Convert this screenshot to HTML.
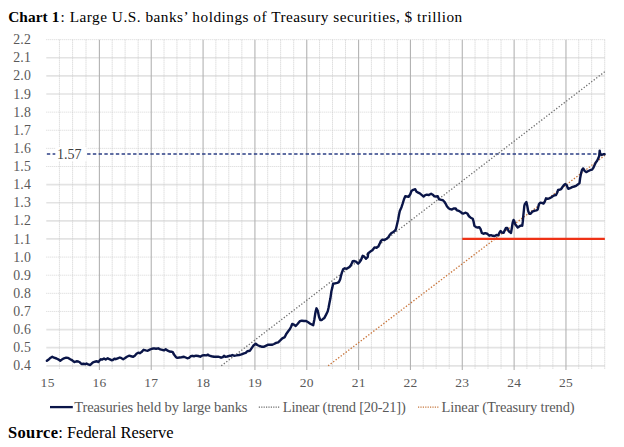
<!DOCTYPE html>
<html><head><meta charset="utf-8"><style>
html,body{margin:0;padding:0;background:#fff;}
body{width:624px;height:447px;overflow:hidden;}
svg{display:block;font-family:"Liberation Serif",serif;}
</style></head><body>
<svg width="624" height="447" viewBox="0 0 624 447">
<line x1="46.30" y1="365.81" x2="604.84" y2="365.81" stroke="#e3e3e3" stroke-width="1.7"/>
<line x1="46.30" y1="347.69" x2="604.84" y2="347.69" stroke="#e3e3e3" stroke-width="1.7"/>
<line x1="46.30" y1="329.57" x2="604.84" y2="329.57" stroke="#e3e3e3" stroke-width="1.7"/>
<line x1="46.30" y1="311.45" x2="604.84" y2="311.45" stroke="#d6d6d6" stroke-width="1" stroke-dasharray="1 1"/>
<line x1="46.30" y1="293.33" x2="604.84" y2="293.33" stroke="#d6d6d6" stroke-width="1" stroke-dasharray="1 1"/>
<line x1="46.30" y1="275.21" x2="604.84" y2="275.21" stroke="#d6d6d6" stroke-width="1" stroke-dasharray="1 1"/>
<line x1="46.30" y1="257.09" x2="604.84" y2="257.09" stroke="#d6d6d6" stroke-width="1" stroke-dasharray="1 1"/>
<line x1="46.30" y1="238.97" x2="604.84" y2="238.97" stroke="#e3e3e3" stroke-width="1.7"/>
<line x1="46.30" y1="220.85" x2="604.84" y2="220.85" stroke="#e3e3e3" stroke-width="1.7"/>
<line x1="46.30" y1="202.73" x2="604.84" y2="202.73" stroke="#e3e3e3" stroke-width="1.7"/>
<line x1="46.30" y1="184.61" x2="604.84" y2="184.61" stroke="#e3e3e3" stroke-width="1.7"/>
<line x1="46.30" y1="166.49" x2="604.84" y2="166.49" stroke="#d6d6d6" stroke-width="1" stroke-dasharray="1 1"/>
<line x1="46.30" y1="148.37" x2="604.84" y2="148.37" stroke="#d6d6d6" stroke-width="1" stroke-dasharray="1 1"/>
<line x1="46.30" y1="130.25" x2="604.84" y2="130.25" stroke="#d6d6d6" stroke-width="1" stroke-dasharray="1 1"/>
<line x1="46.30" y1="112.13" x2="604.84" y2="112.13" stroke="#d6d6d6" stroke-width="1" stroke-dasharray="1 1"/>
<line x1="46.30" y1="94.01" x2="604.84" y2="94.01" stroke="#e3e3e3" stroke-width="1.7"/>
<line x1="46.30" y1="75.89" x2="604.84" y2="75.89" stroke="#e3e3e3" stroke-width="1.7"/>
<line x1="46.30" y1="57.77" x2="604.84" y2="57.77" stroke="#e3e3e3" stroke-width="1.7"/>
<line x1="46.30" y1="39.65" x2="604.84" y2="39.65" stroke="#d6d6d6" stroke-width="1" stroke-dasharray="1 1"/>
<line x1="59.40" y1="39.65" x2="59.40" y2="368.8" stroke="#cdcdcd" stroke-width="1" stroke-dasharray="1 1"/>
<line x1="72.60" y1="39.65" x2="72.60" y2="368.8" stroke="#cdcdcd" stroke-width="1" stroke-dasharray="1 1"/>
<line x1="86.00" y1="39.65" x2="86.00" y2="368.8" stroke="#cdcdcd" stroke-width="1" stroke-dasharray="1 1"/>
<line x1="99.40" y1="39.65" x2="99.40" y2="370" stroke="#b3b3b3" stroke-width="1.1"/>
<line x1="112.18" y1="39.65" x2="112.18" y2="368.8" stroke="#cdcdcd" stroke-width="1" stroke-dasharray="1 1"/>
<line x1="125.11" y1="39.65" x2="125.11" y2="368.8" stroke="#cdcdcd" stroke-width="1" stroke-dasharray="1 1"/>
<line x1="138.17" y1="39.65" x2="138.17" y2="368.8" stroke="#cdcdcd" stroke-width="1" stroke-dasharray="1 1"/>
<line x1="151.24" y1="39.65" x2="151.24" y2="370" stroke="#b3b3b3" stroke-width="1.1"/>
<line x1="164.02" y1="39.65" x2="164.02" y2="368.8" stroke="#cdcdcd" stroke-width="1" stroke-dasharray="1 1"/>
<line x1="176.95" y1="39.65" x2="176.95" y2="368.8" stroke="#cdcdcd" stroke-width="1" stroke-dasharray="1 1"/>
<line x1="190.01" y1="39.65" x2="190.01" y2="368.8" stroke="#cdcdcd" stroke-width="1" stroke-dasharray="1 1"/>
<line x1="203.08" y1="39.65" x2="203.08" y2="370" stroke="#b3b3b3" stroke-width="1.1"/>
<line x1="215.86" y1="39.65" x2="215.86" y2="368.8" stroke="#cdcdcd" stroke-width="1" stroke-dasharray="1 1"/>
<line x1="228.79" y1="39.65" x2="228.79" y2="368.8" stroke="#cdcdcd" stroke-width="1" stroke-dasharray="1 1"/>
<line x1="241.85" y1="39.65" x2="241.85" y2="368.8" stroke="#cdcdcd" stroke-width="1" stroke-dasharray="1 1"/>
<line x1="254.92" y1="39.65" x2="254.92" y2="370" stroke="#b3b3b3" stroke-width="1.1"/>
<line x1="267.70" y1="39.65" x2="267.70" y2="368.8" stroke="#cdcdcd" stroke-width="1" stroke-dasharray="1 1"/>
<line x1="280.63" y1="39.65" x2="280.63" y2="368.8" stroke="#cdcdcd" stroke-width="1" stroke-dasharray="1 1"/>
<line x1="293.69" y1="39.65" x2="293.69" y2="368.8" stroke="#cdcdcd" stroke-width="1" stroke-dasharray="1 1"/>
<line x1="306.76" y1="39.65" x2="306.76" y2="370" stroke="#b3b3b3" stroke-width="1.1"/>
<line x1="319.54" y1="39.65" x2="319.54" y2="368.8" stroke="#cdcdcd" stroke-width="1" stroke-dasharray="1 1"/>
<line x1="332.47" y1="39.65" x2="332.47" y2="368.8" stroke="#cdcdcd" stroke-width="1" stroke-dasharray="1 1"/>
<line x1="345.53" y1="39.65" x2="345.53" y2="368.8" stroke="#cdcdcd" stroke-width="1" stroke-dasharray="1 1"/>
<line x1="358.60" y1="39.65" x2="358.60" y2="370" stroke="#b3b3b3" stroke-width="1.1"/>
<line x1="371.38" y1="39.65" x2="371.38" y2="368.8" stroke="#cdcdcd" stroke-width="1" stroke-dasharray="1 1"/>
<line x1="384.31" y1="39.65" x2="384.31" y2="368.8" stroke="#cdcdcd" stroke-width="1" stroke-dasharray="1 1"/>
<line x1="397.37" y1="39.65" x2="397.37" y2="368.8" stroke="#cdcdcd" stroke-width="1" stroke-dasharray="1 1"/>
<line x1="410.44" y1="39.65" x2="410.44" y2="370" stroke="#b3b3b3" stroke-width="1.1"/>
<line x1="423.22" y1="39.65" x2="423.22" y2="368.8" stroke="#cdcdcd" stroke-width="1" stroke-dasharray="1 1"/>
<line x1="436.15" y1="39.65" x2="436.15" y2="368.8" stroke="#cdcdcd" stroke-width="1" stroke-dasharray="1 1"/>
<line x1="449.21" y1="39.65" x2="449.21" y2="368.8" stroke="#cdcdcd" stroke-width="1" stroke-dasharray="1 1"/>
<line x1="462.28" y1="39.65" x2="462.28" y2="370" stroke="#b3b3b3" stroke-width="1.1"/>
<line x1="475.06" y1="39.65" x2="475.06" y2="368.8" stroke="#cdcdcd" stroke-width="1" stroke-dasharray="1 1"/>
<line x1="487.99" y1="39.65" x2="487.99" y2="368.8" stroke="#cdcdcd" stroke-width="1" stroke-dasharray="1 1"/>
<line x1="501.05" y1="39.65" x2="501.05" y2="368.8" stroke="#cdcdcd" stroke-width="1" stroke-dasharray="1 1"/>
<line x1="514.12" y1="39.65" x2="514.12" y2="370" stroke="#b3b3b3" stroke-width="1.1"/>
<line x1="526.90" y1="39.65" x2="526.90" y2="368.8" stroke="#cdcdcd" stroke-width="1" stroke-dasharray="1 1"/>
<line x1="539.83" y1="39.65" x2="539.83" y2="368.8" stroke="#cdcdcd" stroke-width="1" stroke-dasharray="1 1"/>
<line x1="552.89" y1="39.65" x2="552.89" y2="368.8" stroke="#cdcdcd" stroke-width="1" stroke-dasharray="1 1"/>
<line x1="565.96" y1="39.65" x2="565.96" y2="370" stroke="#b3b3b3" stroke-width="1.1"/>
<line x1="578.74" y1="39.65" x2="578.74" y2="368.8" stroke="#cdcdcd" stroke-width="1" stroke-dasharray="1 1"/>
<line x1="591.67" y1="39.65" x2="591.67" y2="368.8" stroke="#cdcdcd" stroke-width="1" stroke-dasharray="1 1"/>
<line x1="604.73" y1="39.65" x2="604.73" y2="368.8" stroke="#cdcdcd" stroke-width="1" stroke-dasharray="1 1"/>
<line x1="46.30" y1="154" x2="604.84" y2="154" stroke="#2c3f85" stroke-width="1.7" stroke-dasharray="3.4 2.35" stroke-dashoffset="-0.55"/>
<rect x="55.3" y="147" width="31.4" height="14" fill="#fff"/>
<text x="57.1" y="158.6" font-size="14" fill="#404040">1.57</text>
<line x1="221.30" y1="365.81" x2="604.84" y2="71.63" stroke="#6e6e6e" stroke-width="1.3" stroke-dasharray="1.3 1.85"/>
<line x1="328.13" y1="365.81" x2="604.84" y2="155.37" stroke="#c8743a" stroke-width="1.3" stroke-dasharray="1.4 1.75"/>
<line x1="462.28" y1="238.97" x2="604.84" y2="238.97" stroke="#ee3216" stroke-width="2.2"/>
<path d="M46.90,360.80 L49.00,359.20 L50.70,357.70 L52.30,356.70 L54.00,357.70 L56.50,358.50 L58.20,359.30 L60.25,360.80 L61.90,359.60 L64.00,358.30 L66.10,357.70 L68.20,357.90 L70.25,359.20 L72.30,360.40 L74.40,362.10 L76.50,361.25 L78.20,361.50 L79.80,362.30 L81.50,364.00 L83.60,363.75 L85.25,364.20 L86.50,363.50 L88.20,364.30 L90.25,365.00 L91.90,363.30 L93.60,362.10 L95.70,361.50 L96.90,361.25 L98.20,362.10 L99.40,360.80 L100.70,359.30 L102.30,359.60 L104.00,358.50 L105.70,359.60 L107.75,358.30 L109.40,359.20 L111.50,360.20 L112.75,360.00 L114.40,358.75 L115.70,359.20 L117.75,358.30 L119.80,357.50 L121.50,358.20 L123.20,359.20 L124.80,358.30 L126.90,356.80 L129.00,355.70 L131.10,356.25 L133.20,356.80 L134.80,355.70 L136.50,353.75 L138.20,352.70 L139.80,353.20 L141.50,352.10 L143.60,349.80 L145.70,350.40 L147.75,350.70 L149.80,349.60 L151.90,348.75 L154.00,348.30 L156.10,348.75 L158.20,348.30 L160.25,349.30 L162.30,349.80 L164.00,350.40 L165.70,349.30 L167.75,350.70 L169.40,351.50 L171.50,351.70 L172.75,352.10 L174.00,354.60 L176.10,357.30 L177.30,357.90 L179.40,357.50 L181.50,357.30 L184.00,356.80 L185.70,357.50 L187.30,358.30 L189.00,357.90 L190.70,356.25 L192.30,355.80 L194.00,356.25 L196.10,355.70 L198.20,356.00 L200.25,356.70 L202.30,355.40 L204.40,355.20 L206.50,355.40 L207.75,354.60 L209.40,355.70 L211.50,356.25 L214.00,356.70 L216.10,356.80 L218.20,356.70 L219.80,357.10 L221.10,357.70 L222.75,357.10 L224.00,355.80 L225.25,356.80 L227.30,356.50 L229.40,355.80 L231.10,355.70 L232.30,355.00 L234.00,355.70 L236.50,355.40 L239.00,355.00 L241.50,354.30 L244.00,353.30 L245.70,352.90 L247.30,351.25 L249.80,350.80 L251.50,348.30 L253.20,345.80 L255.70,343.75 L257.30,345.00 L259.40,346.00 L261.50,346.70 L263.60,346.80 L265.70,345.80 L267.75,344.80 L269.80,344.60 L271.90,344.80 L274.00,344.00 L276.10,342.90 L278.20,342.30 L280.25,340.40 L282.30,338.30 L284.80,337.10 L286.10,334.20 L288.20,331.25 L289.80,329.20 L291.10,326.70 L292.20,324.00 L294.00,324.60 L295.70,326.00 L297.75,323.75 L299.80,321.25 L301.90,320.70 L304.00,321.00 L306.10,321.00 L308.20,322.30 L310.25,323.75 L313.20,325.20 L314.40,319.20 L315.50,312.10 L316.50,308.30 L317.75,310.80 L319.00,316.70 L320.25,320.00 L321.90,320.00 L323.20,318.75 L324.40,317.90 L326.10,314.60 L327.75,311.25 L328.60,307.50 L329.40,303.30 L330.40,298.30 L331.40,291.25 L332.25,287.90 L333.10,283.75 L335.20,283.30 L337.25,282.90 L338.90,282.10 L340.20,279.20 L341.00,275.80 L341.80,272.90 L343.10,269.30 L344.75,268.30 L346.40,268.75 L348.10,267.90 L349.75,266.70 L351.00,265.00 L351.80,263.30 L352.70,261.25 L354.30,261.00 L356.00,261.70 L358.10,263.75 L359.30,262.50 L361.00,260.00 L362.70,255.80 L364.30,256.70 L366.00,258.75 L367.70,257.10 L368.25,253.25 L370.30,251.60 L372.40,250.30 L374.50,247.40 L376.60,247.80 L378.25,246.60 L379.50,244.10 L380.75,241.20 L382.40,239.70 L384.50,239.90 L386.60,238.70 L388.25,237.40 L389.50,235.30 L391.20,233.25 L393.25,232.00 L394.90,230.75 L395.75,229.50 L396.60,226.20 L397.40,222.80 L398.20,219.25 L399.00,214.70 L399.80,210.90 L401.50,207.20 L402.75,203.40 L404.00,199.25 L405.25,196.30 L406.90,196.50 L408.60,196.75 L410.25,194.25 L411.50,190.90 L413.20,189.80 L415.25,189.25 L416.50,191.75 L418.20,192.60 L419.80,193.40 L421.90,195.10 L423.60,196.50 L425.25,195.10 L426.90,194.70 L428.60,195.10 L431.10,193.80 L432.75,194.70 L434.40,196.30 L436.10,196.50 L437.75,196.20 L439.00,199.25 L440.70,199.70 L442.75,200.10 L444.40,201.75 L445.70,203.80 L446.90,206.25 L448.60,208.30 L450.25,209.20 L451.90,209.60 L453.60,208.50 L455.70,208.50 L456.90,210.40 L458.60,210.70 L460.25,211.70 L461.90,213.20 L463.60,213.50 L465.70,212.70 L467.30,213.50 L469.00,216.25 L470.70,217.70 L472.75,218.75 L473.60,221.70 L474.40,225.80 L476.10,227.10 L477.70,227.50 L479.30,227.10 L480.60,229.20 L481.80,232.90 L483.50,233.75 L485.20,233.20 L487.25,233.75 L489.30,235.70 L491.00,235.20 L492.70,235.80 L494.75,236.00 L496.40,235.00 L498.10,235.40 L499.30,232.90 L500.60,231.00 L501.80,232.50 L503.50,232.90 L504.75,230.40 L506.00,227.90 L507.25,227.90 L508.50,230.80 L509.75,232.10 L511.00,232.90 L511.80,228.30 L512.70,222.50 L513.50,220.00 L514.30,221.25 L515.20,224.20 L516.40,225.80 L517.70,227.50 L518.90,226.70 L520.20,225.80 L521.40,225.40 L522.25,225.80 L522.80,221.70 L523.30,215.80 L523.90,210.00 L524.30,206.00 L524.75,204.20 L526.40,202.10 L527.25,205.80 L528.10,210.80 L529.30,213.75 L530.60,213.75 L532.25,211.70 L534.30,210.80 L536.40,210.40 L537.70,209.60 L538.90,204.20 L540.20,202.70 L541.80,202.90 L543.50,203.50 L544.75,201.70 L546.00,198.30 L547.70,198.75 L549.30,198.30 L551.00,197.50 L552.70,196.25 L554.30,195.40 L556.00,195.00 L557.25,192.50 L558.10,190.00 L559.30,189.80 L561.00,189.20 L562.50,187.00 L564.00,185.10 L565.40,184.10 L566.70,185.10 L567.70,187.80 L568.40,188.80 L570.10,188.20 L572.10,187.10 L574.10,186.50 L576.10,185.80 L577.80,184.60 L579.50,183.10 L580.10,178.40 L581.10,173.10 L582.10,169.70 L583.20,168.40 L584.50,170.70 L586.25,172.10 L587.90,171.25 L590.00,170.20 L592.10,169.60 L593.30,167.90 L594.60,165.00 L595.80,162.50 L597.10,160.80 L598.30,158.30 L599.20,155.80 L599.70,150.60 L600.30,154.40 L601.70,155.00 L603.30,154.20 L604.60,154.30" fill="none" stroke="#0a1548" stroke-width="2.4" stroke-linejoin="round" stroke-linecap="round"/>
<text x="30.9" y="370.41" font-size="13.8" letter-spacing="0.1" fill="#595959" text-anchor="end">0.4</text>
<text x="30.9" y="352.29" font-size="13.8" letter-spacing="0.1" fill="#595959" text-anchor="end">0.5</text>
<text x="30.9" y="334.17" font-size="13.8" letter-spacing="0.1" fill="#595959" text-anchor="end">0.6</text>
<text x="30.9" y="316.05" font-size="13.8" letter-spacing="0.1" fill="#595959" text-anchor="end">0.7</text>
<text x="30.9" y="297.93" font-size="13.8" letter-spacing="0.1" fill="#595959" text-anchor="end">0.8</text>
<text x="30.9" y="279.81" font-size="13.8" letter-spacing="0.1" fill="#595959" text-anchor="end">0.9</text>
<text x="30.9" y="261.69" font-size="13.8" letter-spacing="0.1" fill="#595959" text-anchor="end">1.0</text>
<text x="30.9" y="243.57" font-size="13.8" letter-spacing="0.1" fill="#595959" text-anchor="end">1.1</text>
<text x="30.9" y="225.45" font-size="13.8" letter-spacing="0.1" fill="#595959" text-anchor="end">1.2</text>
<text x="30.9" y="207.33" font-size="13.8" letter-spacing="0.1" fill="#595959" text-anchor="end">1.3</text>
<text x="30.9" y="189.21" font-size="13.8" letter-spacing="0.1" fill="#595959" text-anchor="end">1.4</text>
<text x="30.9" y="171.09" font-size="13.8" letter-spacing="0.1" fill="#595959" text-anchor="end">1.5</text>
<text x="30.9" y="152.97" font-size="13.8" letter-spacing="0.1" fill="#595959" text-anchor="end">1.6</text>
<text x="30.9" y="134.85" font-size="13.8" letter-spacing="0.1" fill="#595959" text-anchor="end">1.7</text>
<text x="30.9" y="116.73" font-size="13.8" letter-spacing="0.1" fill="#595959" text-anchor="end">1.8</text>
<text x="30.9" y="98.61" font-size="13.8" letter-spacing="0.1" fill="#595959" text-anchor="end">1.9</text>
<text x="30.9" y="80.49" font-size="13.8" letter-spacing="0.1" fill="#595959" text-anchor="end">2.0</text>
<text x="30.9" y="62.37" font-size="13.8" letter-spacing="0.1" fill="#595959" text-anchor="end">2.1</text>
<text x="30.9" y="44.25" font-size="13.8" letter-spacing="0.1" fill="#595959" text-anchor="end">2.2</text>
<text x="47.66" y="387.3" font-size="13.5" letter-spacing="0.3" fill="#595959" text-anchor="middle">15</text>
<text x="99.50" y="387.3" font-size="13.5" letter-spacing="0.3" fill="#595959" text-anchor="middle">16</text>
<text x="151.34" y="387.3" font-size="13.5" letter-spacing="0.3" fill="#595959" text-anchor="middle">17</text>
<text x="203.18" y="387.3" font-size="13.5" letter-spacing="0.3" fill="#595959" text-anchor="middle">18</text>
<text x="255.02" y="387.3" font-size="13.5" letter-spacing="0.3" fill="#595959" text-anchor="middle">19</text>
<text x="306.86" y="387.3" font-size="13.5" letter-spacing="0.3" fill="#595959" text-anchor="middle">20</text>
<text x="358.70" y="387.3" font-size="13.5" letter-spacing="0.3" fill="#595959" text-anchor="middle">21</text>
<text x="410.54" y="387.3" font-size="13.5" letter-spacing="0.3" fill="#595959" text-anchor="middle">22</text>
<text x="462.38" y="387.3" font-size="13.5" letter-spacing="0.3" fill="#595959" text-anchor="middle">23</text>
<text x="514.22" y="387.3" font-size="13.5" letter-spacing="0.3" fill="#595959" text-anchor="middle">24</text>
<text x="566.06" y="387.3" font-size="13.5" letter-spacing="0.3" fill="#595959" text-anchor="middle">25</text>
<line x1="50" y1="407.1" x2="72.8" y2="407.1" stroke="#0a1548" stroke-width="2.3"/>
<text x="74.2" y="411.5" font-size="14.5" fill="#595959" textLength="173.3" lengthAdjust="spacing">Treasuries held by large banks</text>
<line x1="258.8" y1="407.1" x2="280" y2="407.1" stroke="#6b6b6b" stroke-width="1.2" stroke-dasharray="1.2 1.2"/>
<text x="282.8" y="411.5" font-size="14.5" fill="#595959" textLength="123" lengthAdjust="spacing">Linear (trend [20-21])</text>
<line x1="418" y1="407.1" x2="438.8" y2="407.1" stroke="#c5773d" stroke-width="1.2" stroke-dasharray="1.2 1.2"/>
<text x="441.6" y="411.5" font-size="14.5" fill="#595959" textLength="133" lengthAdjust="spacing">Linear (Treasury trend)</text>
<text x="8.2" y="22.2" font-size="15.3" font-weight="bold" fill="#000" textLength="51.2" lengthAdjust="spacing">Chart 1</text>
<text x="60.6" y="22.2" font-size="15.3" fill="#000" textLength="401.6" lengthAdjust="spacing">: Large U.S. banks’ holdings of Treasury securities, $ trillion</text>
<text x="8" y="438.4" font-size="16.5" font-weight="bold" fill="#000" textLength="50" lengthAdjust="spacing">Source</text>
<text x="58.2" y="438.4" font-size="16.5" fill="#000" textLength="115.3" lengthAdjust="spacing">: Federal Reserve</text>
</svg>
</body></html>
